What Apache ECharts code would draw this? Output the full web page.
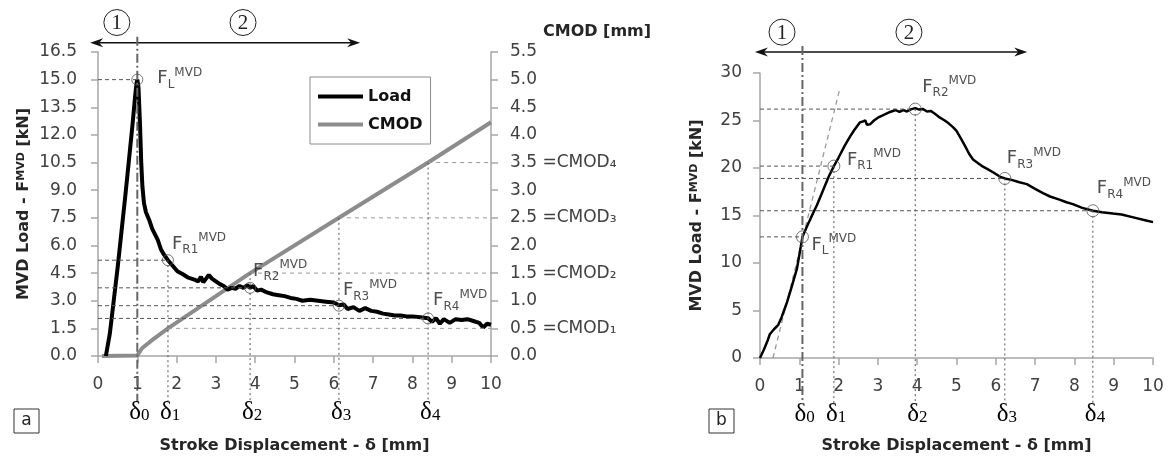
<!DOCTYPE html>
<html>
<head>
<meta charset="utf-8">
<script src="https://cdn.jsdelivr.net/npm/echarts@6/dist/echarts.min.js"></script>
<style>
  html, body { margin: 0; padding: 0; background: #fff; }
  #chart { width: 1171px; height: 459px; }
</style>
</head>
<body>
<div id="chart"></div>
<script>
// ---- panel a: MVD load and CMOD vs stroke displacement ----
const loadA = [
  [0.20, 0], [0.30, 1.2], [0.40, 3.0], [0.50, 4.8], [0.60, 6.8], [0.70, 8.8], [0.80, 10.9],
  [0.88, 12.6], [0.94, 14.0], [0.98, 14.8], [1.00, 15.0], [1.03, 14.6], [1.07, 12.5],
  [1.10, 10.5], [1.13, 9.2], [1.17, 8.3], [1.22, 7.8], [1.30, 7.4], [1.38, 6.9], [1.45, 6.6],
  [1.52, 6.3], [1.60, 5.8], [1.68, 5.5], [1.78, 5.2], [1.90, 4.9], [2.02, 4.6], [2.15, 4.45],
  [2.30, 4.25], [2.45, 4.15], [2.55, 4.05], [2.62, 4.3], [2.68, 4.0], [2.75, 4.2], [2.82, 4.4],
  [2.90, 4.2], [3.00, 4.05], [3.10, 3.9], [3.20, 3.8], [3.30, 3.6], [3.40, 3.7], [3.50, 3.65],
  [3.60, 3.8], [3.70, 3.7], [3.80, 3.85], [3.87, 3.7], [3.95, 3.8], [4.05, 3.55], [4.15, 3.6],
  [4.30, 3.45], [4.45, 3.35], [4.60, 3.3], [4.75, 3.25], [4.90, 3.15], [5.05, 3.1], [5.20, 3.0],
  [5.40, 3.05], [5.60, 3.0], [5.80, 2.95], [6.00, 2.9], [6.13, 2.75], [6.25, 2.8], [6.35, 2.55],
  [6.50, 2.65], [6.65, 2.45], [6.80, 2.6], [6.95, 2.45], [7.10, 2.4], [7.25, 2.3], [7.40, 2.25],
  [7.55, 2.2], [7.70, 2.2], [7.85, 2.15], [8.00, 2.15], [8.20, 2.1], [8.40, 2.05], [8.50, 1.85],
  [8.60, 2.05], [8.70, 1.75], [8.80, 2.0], [8.95, 1.8], [9.10, 2.0], [9.25, 1.95], [9.40, 2.0],
  [9.55, 1.9], [9.70, 1.8], [9.80, 1.55], [9.90, 1.75], [10.0, 1.7]
];
const cmodA = [
  [0.10, 0], [1.00, 0.01], [1.12, 0.14], [1.40, 0.30], [1.78, 0.5], [3.87, 1.5],
  [6.13, 2.5], [8.40, 3.5], [10.0, 4.23]
];
const pointsA = [[1.00, 15.0], [1.78, 5.2], [3.87, 3.7], [6.13, 2.73], [8.40, 2.04]];
const deltaA = [1.00, 1.78, 3.87, 6.13, 8.40];
const cmodLevels = [0.5, 1.5, 2.5, 3.5];

// ---- panel b: MVD load vs stroke displacement ----
const loadB = [
  [0, 0], [0.10, 0.9], [0.20, 1.9], [0.25, 2.5], [0.35, 3.0], [0.46, 3.45], [0.55, 4.3],
  [0.69, 5.9], [0.80, 7.4], [0.94, 9.4], [1.02, 11.3], [1.08, 12.75], [1.20, 13.9], [1.30, 14.8],
  [1.45, 16.1], [1.60, 17.6], [1.75, 19.1], [1.88, 20.2], [2.00, 21.1], [2.15, 22.3], [2.29, 23.3],
  [2.40, 24.0], [2.54, 24.8], [2.62, 24.9], [2.68, 25.0], [2.72, 24.55], [2.80, 24.6], [2.90, 25.0],
  [3.00, 25.3], [3.15, 25.6], [3.31, 25.9], [3.45, 26.1], [3.55, 25.9], [3.65, 26.1], [3.74, 25.95],
  [3.85, 26.2], [3.95, 26.3], [4.05, 26.15], [4.15, 26.2], [4.25, 25.95], [4.35, 26.0], [4.45, 25.7],
  [4.58, 25.3], [4.70, 25.0], [4.80, 24.7], [4.91, 24.3], [5.00, 23.9], [5.10, 23.2], [5.22, 22.3],
  [5.32, 21.5], [5.42, 20.9], [5.55, 20.5], [5.65, 20.2], [5.78, 19.9], [5.95, 19.5], [6.10, 19.1],
  [6.23, 18.9], [6.40, 18.75], [6.60, 18.5], [6.79, 18.3], [7.00, 17.8], [7.20, 17.35], [7.38, 17.0],
  [7.60, 16.7], [7.80, 16.4], [7.96, 16.2], [8.20, 15.8], [8.47, 15.5], [8.70, 15.35], [8.98, 15.2],
  [9.20, 15.1], [9.50, 14.8], [9.80, 14.5], [10.0, 14.3]
];
const tangentB = [[0.33, 0], [2.04, 28.5]];
const pointsB = [[1.08, 12.75], [1.88, 20.2], [3.95, 26.2], [6.23, 18.9], [8.47, 15.5]];
const deltaB = [1.08, 1.88, 3.95, 6.23, 8.47];

const pointNames = ['L', 'R1', 'R2', 'R3', 'R4'];
const deltaNames = ['0', '1', '2', '3', '4'];
const cmodSub = { '0.5': '₁', '1.5': '₂', '2.5': '₃', '3.5': '₄' };

// annotation placement (data units of each panel)
const arrowA = { from: -0.2, to: 6.67, y: 17.0 };
const arrowB = { from: -0.13, to: 6.8, y: 32.2 };
const zonesA = [[0.48, 18.1], [3.69, 18.1]];
const zonesB = [[0.56, 34.3], [3.79, 34.3]];
const labelOffA = [[20, -1], [4, -16], [3, -17], [4, -15], [5, -18]];
const labelOffB = [[9, 8], [13, -6], [7, -22], [2, -20], [4, -22]];

const FONT = 'DejaVu Sans';
const AXIS_GREY = '#a6a6a6';
const TXT = '#404040';

const markRich = {
  f: { fontSize: 18, lineHeight: 24, color: '#222', fontFamily: FONT },
  s: { fontSize: 12, lineHeight: 8, verticalAlign: 'bottom', color: '#222', fontFamily: FONT },
  p: { fontSize: 12, lineHeight: 11, verticalAlign: 'top', color: '#222', fontFamily: FONT }
};

function axisCommon() {
  return {
    axisLine: { show: true, lineStyle: { color: AXIS_GREY, width: 1.5 } },
    axisTick: { show: true, length: 7, lineStyle: { color: AXIS_GREY, width: 1.5 } },
    splitLine: { show: false },
  };
}

function markerSeries(name, xIdx, yIdx, pts, offs, size) {
  return {
    name: name,
    type: 'scatter',
    xAxisIndex: xIdx,
    yAxisIndex: yIdx,
    data: pts,
    symbol: 'circle',
    symbolSize: size,
    z: 10,
    itemStyle: { color: 'rgba(0,0,0,0)', borderColor: '#555', borderWidth: 1 },
    label: {
      show: true,
      position: 'inside',
      align: 'left',
      verticalAlign: 'middle',
      formatter: p => '{f|F}{s|' + pointNames[p.dataIndex] + '}{p|MVD}',
      rich: markRich
    },
    labelLayout: p => ({ dx: offs[p.dataIndex][0], dy: offs[p.dataIndex][1] }),
    emphasis: { disabled: true },
    silent: true
  };
}

const titleStyle = {
  fontFamily: FONT, fontWeight: 'bold', fontSize: 16, color: '#262626',
  rich: {
    sup: { fontFamily: FONT, fontWeight: 'bold', fontSize: 11, color: '#262626', verticalAlign: 'top', lineHeight: 10 }
  }
};

const option = {
  animation: false,
  backgroundColor: '#fff',
  textStyle: { fontFamily: FONT },
  legend: {
    data: [{ name: 'Load', icon: 'rect' }, { name: 'CMOD', icon: 'rect' }],
    orient: 'vertical',
    left: 310,
    top: 77,
    padding: [10, 8, 10, 8],
    itemWidth: 45,
    itemHeight: 4,
    itemGap: 9,
    borderColor: '#8c8c8c',
    borderWidth: 1,
    textStyle: { fontFamily: FONT, fontWeight: 'bold', fontSize: 16, color: '#111', lineHeight: 19 }
  },
  grid: [
    { left: 98, top: 52, width: 393, height: 308 },
    { left: 760, top: 73, width: 393, height: 287 }
  ],
  xAxis: [
    Object.assign(axisCommon(), {
      type: 'value', gridIndex: 0, min: 0, max: 10, interval: 1,
      axisLabel: { fontSize: 17, color: TXT, margin: 20, fontFamily: FONT },
      name: 'Stroke Displacement - δ [mm]', nameLocation: 'middle', nameGap: 82,
      nameTextStyle: titleStyle
    }),
    Object.assign(axisCommon(), {
      type: 'value', gridIndex: 1, min: 0, max: 10, interval: 1,
      axisLabel: { fontSize: 17, color: TXT, margin: 20, fontFamily: FONT },
      name: 'Stroke Displacement - δ [mm]', nameLocation: 'middle', nameGap: 80,
      nameTextStyle: titleStyle
    })
  ],
  yAxis: [
    Object.assign(axisCommon(), {
      type: 'value', gridIndex: 0, min: 0, max: 16.5, interval: 1.5, position: 'left',
      axisLabel: { fontSize: 17, color: TXT, margin: 21, fontFamily: FONT, formatter: v => v.toFixed(1) },
      name: 'MVD Load - F{sup|MVD} [kN]', nameLocation: 'middle', nameGap: 66,
      nameTextStyle: titleStyle
    }),
    Object.assign(axisCommon(), {
      type: 'value', gridIndex: 0, min: 0, max: 5.5, interval: 0.5, position: 'right',
      axisLabel: {
        fontSize: 17, color: TXT, margin: 19, fontFamily: FONT,
        formatter: v => {
          const k = v.toFixed(1);
          return cmodSub[k] ? k + ' =CMOD' + cmodSub[k] : k;
        }
      },
      name: 'CMOD [mm]', nameLocation: 'end', nameGap: 12,
      nameTextStyle: { fontFamily: FONT, fontWeight: 'bold', fontSize: 16, color: '#262626', align: 'left', padding: [0, 0, 0, 52] }
    }),
    Object.assign(axisCommon(), {
      type: 'value', gridIndex: 1, min: 0, max: 30, interval: 5,
      axisLabel: { fontSize: 17, color: TXT, margin: 18, fontFamily: FONT },
      name: 'MVD Load - F{sup|MVD} [kN]', nameLocation: 'middle', nameGap: 55,
      nameTextStyle: titleStyle
    })
  ],
  series: [
    {
      name: 'CMOD', type: 'line', xAxisIndex: 0, yAxisIndex: 1, data: cmodA,
      symbol: 'none', lineStyle: { color: '#8c8c8c', width: 4 }, itemStyle: { color: '#8c8c8c' }, z: 3
    },
    {
      name: 'Load', type: 'line', xAxisIndex: 0, yAxisIndex: 0, data: loadA,
      symbol: 'none', lineStyle: { color: '#000', width: 4 }, itemStyle: { color: '#000' }, z: 4
    },
    {
      name: 'Tangent', type: 'line', xAxisIndex: 1, yAxisIndex: 2, data: tangentB,
      symbol: 'none', lineStyle: { color: '#9a9a9a', width: 1.3, type: [5, 4] }, z: 2
    },
    {
      name: 'LoadB', type: 'line', xAxisIndex: 1, yAxisIndex: 2, data: loadB,
      symbol: 'none', lineStyle: { color: '#000', width: 2.5 }, itemStyle: { color: '#000' }, z: 4
    },
    markerSeries('PointsA', 0, 0, pointsA, labelOffA, 11),
    markerSeries('PointsB', 1, 2, pointsB, labelOffB, 12)
  ]
};

const chart = echarts.init(document.getElementById('chart'), null, { renderer: 'canvas' });
chart.setOption(option);

// ---- guide lines, delta labels, zone arrows (positions via the chart scales) ----
const pa = p => chart.convertToPixel({ xAxisIndex: 0, yAxisIndex: 0 }, p);
const pc = p => chart.convertToPixel({ xAxisIndex: 0, yAxisIndex: 1 }, p);
const pb = p => chart.convertToPixel({ xAxisIndex: 1, yAxisIndex: 2 }, p);

const g = [];
function seg(p1, p2, stroke, width, dash) {
  g.push({
    type: 'line', silent: true, z: 5,
    shape: { x1: p1[0], y1: p1[1], x2: p2[0], y2: p2[1] },
    style: { stroke: stroke, lineWidth: width, lineDash: dash || null }
  });
}
function deltaLabel(x, y, i) {
  g.push({
    type: 'text', silent: true, z: 5,
    style: {
      x: x - 8, y: y, text: '{d|δ}{n|' + deltaNames[i] + '}', align: 'left', verticalAlign: 'top',
      rich: {
        d: { fontFamily: 'Liberation Serif', fontSize: 25, color: '#7a7a7a', lineHeight: 24 },
        n: { fontFamily: 'Liberation Serif', fontSize: 17, color: '#7a7a7a', lineHeight: 12, verticalAlign: 'bottom' }
      }
    }
  });
}
function arrow(conv, spec) {
  const a = conv([spec.from, spec.y]);
  const b = conv([spec.to, spec.y]);
  const y = a[1];
  seg([a[0] + 4, y], [b[0] - 4, y], '#111', 1.5);
  g.push({ type: 'polygon', silent: true, z: 6,
    shape: { points: [[a[0], y], [a[0] + 13, y - 4.5], [a[0] + 9, y], [a[0] + 13, y + 4.5]] },
    style: { fill: '#111' } });
  g.push({ type: 'polygon', silent: true, z: 6,
    shape: { points: [[b[0], y], [b[0] - 13, y - 4.5], [b[0] - 9, y], [b[0] - 13, y + 4.5]] },
    style: { fill: '#111' } });
  return y;
}
function zoneCircle(p, label) {
  g.push({ type: 'circle', silent: true, z: 6, shape: { cx: p[0], cy: p[1], r: 13 },
    style: { fill: 'none', stroke: '#222', lineWidth: 1 } });
  g.push({ type: 'text', silent: true, z: 6,
    style: { x: p[0], y: p[1] + 1, text: label, align: 'center', verticalAlign: 'middle',
      fontFamily: 'Liberation Serif', fontSize: 21, fill: '#222' } });
}
function panelBox(x, y, label) {
  g.push({ type: 'rect', silent: true, shape: { x: x, y: y, width: 25, height: 24 },
    style: { fill: '#fff', stroke: '#333', lineWidth: 1 } });
  g.push({ type: 'text', silent: true,
    style: { x: x + 12.5, y: y + 12, text: label, align: 'center', verticalAlign: 'middle',
      fontFamily: FONT, fontSize: 17, fill: '#222' } });
}

// panel a
const axisYa = pa([0, 0])[1];
const dashDark = [4, 3];
const dashLight = [4, 4];
pointsA.forEach(p => seg(pa([0, p[1]]), pa(p), '#555', 1, dashDark));
cmodLevels.forEach((c, i) => seg(pc([deltaA[i + 1], c]), pc([10, c]), '#9a9a9a', 1, dashLight));
deltaA.forEach((d, i) => {
  if (i === 0) return;
  const top = Math.min(pa(pointsA[i])[1], pc([d, cmodLevels[i - 1]])[1]);
  const x = pa([d, 0])[0];
  seg([x, top], [x, axisYa + 46], '#555', 1, [2, 3]);
  deltaLabel(x, axisYa + 44, i);
});
const arrowYa = arrow(pa, arrowA);
const x0a = pa([deltaA[0], 0])[0];
seg([x0a, arrowYa - 6], [x0a, axisYa + 46], '#666', 2, [9, 3, 2, 3]);
deltaLabel(x0a, axisYa + 44, 0);
zoneCircle(pa(zonesA[0]), '1');
zoneCircle(pa(zonesA[1]), '2');
panelBox(14, 409, 'a');

// panel b
const axisYb = pb([0, 0])[1];
pointsB.forEach(p => seg(pb([0, p[1]]), pb(p), '#555', 1, dashDark));
deltaB.forEach((d, i) => {
  const x = pb([d, 0])[0];
  if (i > 0) {
    seg([x, pb(pointsB[i])[1]], [x, axisYb + 46], '#555', 1, [2, 3]);
  }
  deltaLabel(x, axisYb + 44, i);
});
const arrowYb = arrow(pb, arrowB);
const x0b = pb([deltaB[0], 0])[0];
seg([x0b, arrowYb - 6], [x0b, axisYb + 46], '#666', 2, [9, 3, 2, 3]);
zoneCircle(pb(zonesB[0]), '1');
zoneCircle(pb(zonesB[1]), '2');
panelBox(709, 409, 'b');

chart.setOption({ graphic: g });
</script>
</body>
</html>
